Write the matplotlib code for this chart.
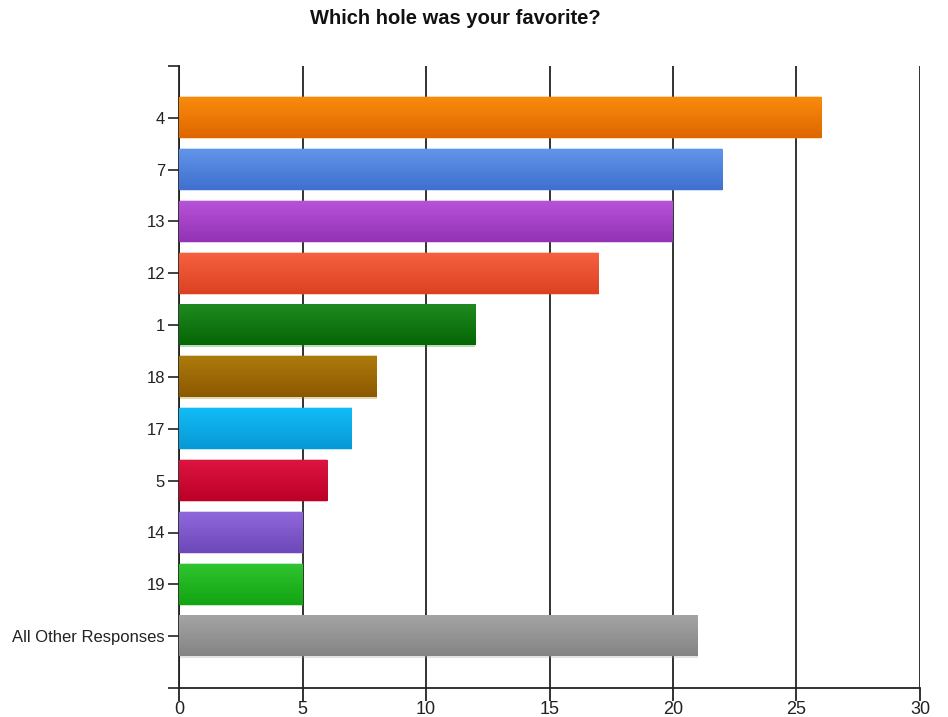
import matplotlib.pyplot as plt
import numpy as np
from matplotlib.colors import LinearSegmentedColormap

# survey answers
holes = ["4", "7", "13", "12", "1", "18", "17", "5", "14", "19", "All Other Responses"]
counts = [26, 22, 20, 17, 12, 8, 7, 6, 5, 5, 21]

# top / bottom colour of each bar's gradient
top_colors = ["#F98B0C", "#6194EA", "#B652D8", "#F6603F", "#1F8A1F", "#AC7A0C",
              "#12BCF6", "#DC1440", "#9068DC", "#30C430", "#A4A4A4"]
bottom_colors = ["#DF6600", "#3F70CE", "#9432B4", "#DC4222", "#056605", "#8C5800",
                 "#0798D6", "#BC0028", "#6C48B8", "#12A412", "#848484"]

plt.rcParams['font.family'] = ['Liberation Sans', 'DejaVu Sans']

fig = plt.figure(figsize=(9.48, 7.17), dpi=100)
ax = fig.add_axes([179 / 948, 1 - 688 / 717, (920 - 179) / 948, (688 - 66) / 717])

ypos = np.arange(1, len(holes) + 1)
h = 0.78
grad = np.linspace(0, 1, 64).reshape(-1, 1)

for y, v, c1, c2 in zip(ypos, counts, top_colors, bottom_colors):
    cmap = LinearSegmentedColormap.from_list("g", [c1, c2])
    # soft light rim around the bar
    ax.barh(y, v, height=h + 0.05, color=c1, edgecolor="none", alpha=0.3, zorder=2)
    ax.imshow(grad, extent=[0, v, y + h / 2, y - h / 2], aspect="auto", cmap=cmap,
              zorder=3, interpolation="bilinear")

ax.set_xlim(0, 30)
ax.set_ylim(12, 0)
ax.set_xticks(range(0, 31, 5))
ax.set_yticks(list(ypos))
ax.set_yticklabels(holes)
ax.set_yticks([0, 12], minor=True)

ax.grid(axis="x", color="#222222", linewidth=1.3, zorder=1)
ax.set_axisbelow(True)

for s in ["top", "right"]:
    ax.spines[s].set_visible(False)
ax.spines["left"].set_color("#222222")
ax.spines["bottom"].set_color("#222222")
ax.spines["left"].set_linewidth(1.3)
ax.spines["bottom"].set_linewidth(1.3)

ax.tick_params(axis="y", which="both", length=8, width=1.2, color="#222222",
               labelsize=12, labelcolor="#222222", pad=2)
ax.tick_params(axis="x", length=9, width=1.3, color="#222222",
               labelsize=13, labelcolor="#222222", pad=0)

fig.text(0.48, 1 - 19 / 717, "Which hole was your favorite?", ha="center", va="center",
         fontsize=14.5, fontweight="bold", color="#111111")

fig.savefig("out.png", dpi=100)
